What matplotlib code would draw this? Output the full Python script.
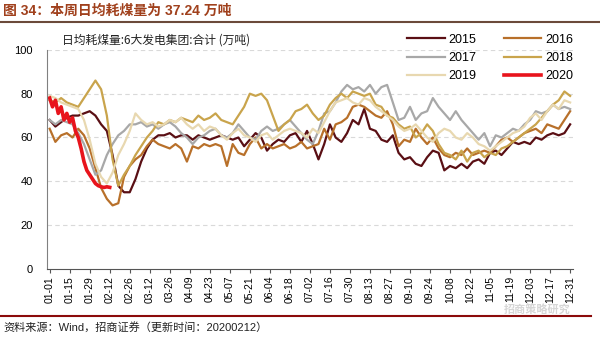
import numpy as np
import matplotlib
matplotlib.use("Agg")
import matplotlib.pyplot as plt

plt.rcParams['font.family'] = ['Liberation Sans', 'Noto Sans CJK SC', 'DejaVu Sans']

# daily coal use, 6 big power groups (10k t), sampled every 4 days from 01-01
y2015 = [68, 65, 67, 69, 70, 70, 71, 72, 70, 66, 63, 52, 38, 35, 35, 41, 49, 55, 59, 61,
         61, 62, 60, 61, 61, 59, 61, 60, 59, 60, 61, 60, 59, 60, 56, 59, 62, 60, 54, 57,
         59, 58, 61, 62, 58, 63, 57, 50, 57, 66, 60, 58, 62, 68, 66, 73, 64, 63, 59, 58,
         61, 53, 50, 51, 48, 47, 51, 54, 53, 45, 47, 46, 48, 46, 49, 50, 48, 53, 54, 52,
         55, 58, 57, 58, 57, 60, 59, 61, 62, 61, 62, 66]
y2016 = [64, 58, 61, 62, 60, 64, 61, 55, 46, 37, 32, 29, 30, 42, 47, 50, 52, 56, 59, 57,
         56, 55, 57, 55, 49, 56, 55, 57, 56, 57, 56, 47, 57, 53, 52, 57, 60, 55, 57, 55,
         56, 57, 55, 56, 58, 55, 56, 57, 64, 59, 66, 67, 69, 74, 75, 74, 72, 70, 69, 72,
         66, 56, 59, 58, 64, 60, 57, 60, 55, 52, 51, 53, 52, 55, 52, 53, 54, 53, 56, 59,
         60, 58, 60, 62, 63, 64, 62, 66, 65, 64, 68, 72]
y2017 = [68, 66, 68, 67, 66, 62, 57, 50, 43, 45, 52, 57, 61, 63, 66, 66, 67, 65, 66, 64,
         66, 67, 65, 62, 60, 57, 60, 61, 63, 64, 61, 60, 62, 66, 63, 60, 59, 63, 65, 63,
         64, 66, 68, 65, 62, 59, 57, 63, 71, 72, 76, 81, 84, 82, 83, 81, 84, 80, 83, 84,
         76, 68, 69, 74, 68, 71, 72, 78, 74, 71, 68, 72, 68, 65, 62, 59, 62, 56, 61, 60,
         62, 64, 63, 66, 68, 72, 71, 72, 75, 73, 74, 73]
y2018 = [77, 76, 78, 76, 75, 74, 78, 82, 86, 82, 70, 50, 38, 43, 47, 52, 56, 60, 63, 67,
         66, 68, 67, 69, 68, 67, 70, 68, 69, 71, 68, 67, 66, 70, 74, 80, 79, 80, 77, 70,
         63, 66, 68, 72, 73, 75, 71, 68, 70, 75, 78, 80, 78, 81, 80, 79, 80, 75, 74, 70,
         69, 66, 64, 65, 60, 62, 66, 63, 57, 53, 52, 50, 54, 49, 53, 54, 51, 53, 52, 55,
         56, 58, 60, 62, 64, 66, 69, 72, 75, 77, 81, 79]
y2019 = [79, 78, 76, 75, 74, 73, 68, 59, 48, 42, 39, 44, 52, 57, 63, 71, 68, 66, 67, 65,
         66, 68, 67, 69, 66, 64, 66, 63, 65, 64, 61, 59, 62, 64, 61, 60, 58, 61, 62, 59,
         61, 63, 64, 63, 62, 60, 64, 62, 67, 72, 76, 77, 78, 76, 75, 78, 77, 74, 72, 70,
         68, 65, 63, 64, 66, 63, 60, 58, 62, 64, 63, 60, 59, 62, 60, 57, 56, 54, 56, 58,
         60, 62, 63, 65, 69, 71, 68, 72, 75, 73, 77, 76]
# 2020 every 2 days up to 02-12
y2020 = [78, 74, 77, 71, 74, 68, 71, 67, 69, 63, 60, 55, 49, 45, 43, 41, 39, 38, 37.5,
         37.2, 37.5, 37.24]

years = ['2015', '2016', '2017', '2018', '2019', '2020']
colors = ['#5a0f14', '#b8702a', '#a8a8a8', '#c9a44c', '#e8d8b0', '#e8141c']
tick_days = np.arange(0, 365, 14)
tick_labels = ['01-01', '01-15', '01-29', '02-12', '02-26', '03-12', '03-26', '04-09',
               '04-23', '05-07', '05-21', '06-04', '06-18', '07-02', '07-16', '07-30',
               '08-13', '08-27', '09-10', '09-24', '10-08', '10-22', '11-05', '11-19',
               '12-03', '12-17', '12-31']

fig = plt.figure(figsize=(6, 3.37), dpi=100)
ax = fig.add_axes([0.078, 0.202, 0.877, 0.65])

lines = {}
series = [y2015, y2016, y2017, y2018, y2019]
for vals, yr, c in zip(series, years[:5], colors[:5]):
    lines[yr], = ax.plot(np.arange(len(vals)) * 4, vals, color=c, lw=1.6, label=yr)
lines['2020'], = ax.plot(np.arange(len(y2020)) * 2, y2020, color=colors[5], lw=2.6,
                         label='2020')

ax.set_xlim(-2, 366)
ax.set_ylim(0, 100)
ax.set_yticks(range(0, 101, 20))
ax.set_xticks(tick_days)
ax.set_xticklabels(tick_labels, rotation=90, fontsize=7.5)
ax.tick_params(axis='y', labelsize=8, length=0, pad=10)
ax.tick_params(axis='x', length=3, color='#555555', pad=2)
for v in range(20, 101, 20):
    ax.axhline(v, color='#d9d9d9', lw=0.8, ls=(0, (4, 3)), zorder=0)
for s in ['top', 'right']:
    ax.spines[s].set_visible(False)
ax.spines['left'].set_color('#808080')
ax.spines['bottom'].set_color('#555555')

# legend fills column by column, so order for row-wise reading
order = ['2015', '2017', '2019', '2016', '2018', '2020']
fig.legend([lines[k] for k in order], order, loc='upper left',
           bbox_to_anchor=(0.67, 0.915), ncol=2, frameon=False,
           fontsize=9, handlelength=3, columnspacing=2.2, labelspacing=0.5,
           handletextpad=0.3, borderaxespad=0)

fig.text(0.103, 0.88, '日均耗煤量:6大发电集团:合计 (万吨)', fontsize=8.5,
         family=['Noto Sans CJK SC', 'DejaVu Sans'], va='center', color='#222222')
fig.text(0.005, 0.968, '图 34：本周日均耗煤量为 37.24 万吨', fontsize=10, fontweight='bold',
         color='#a0401c', va='center', family=['Liberation Sans', 'Noto Sans CJK SC'])
fig.add_artist(plt.Line2D([0, 1], [0.935, 0.935], color='#6b4a3a', lw=1.5))
fig.add_artist(plt.Line2D([0, 0.985], [0.062, 0.062], color='#8b0a0a', lw=1.5))
fig.text(0.005, 0.03, '资料来源：Wind，招商证券（更新时间：20200212）', fontsize=8,
         va='center', color='#222222')
fig.text(0.84, 0.078, '招商策略研究', fontsize=8, color='#cccccc', alpha=0.8,
         va='center', fontweight='bold')

plt.savefig('out.png', dpi=100)
